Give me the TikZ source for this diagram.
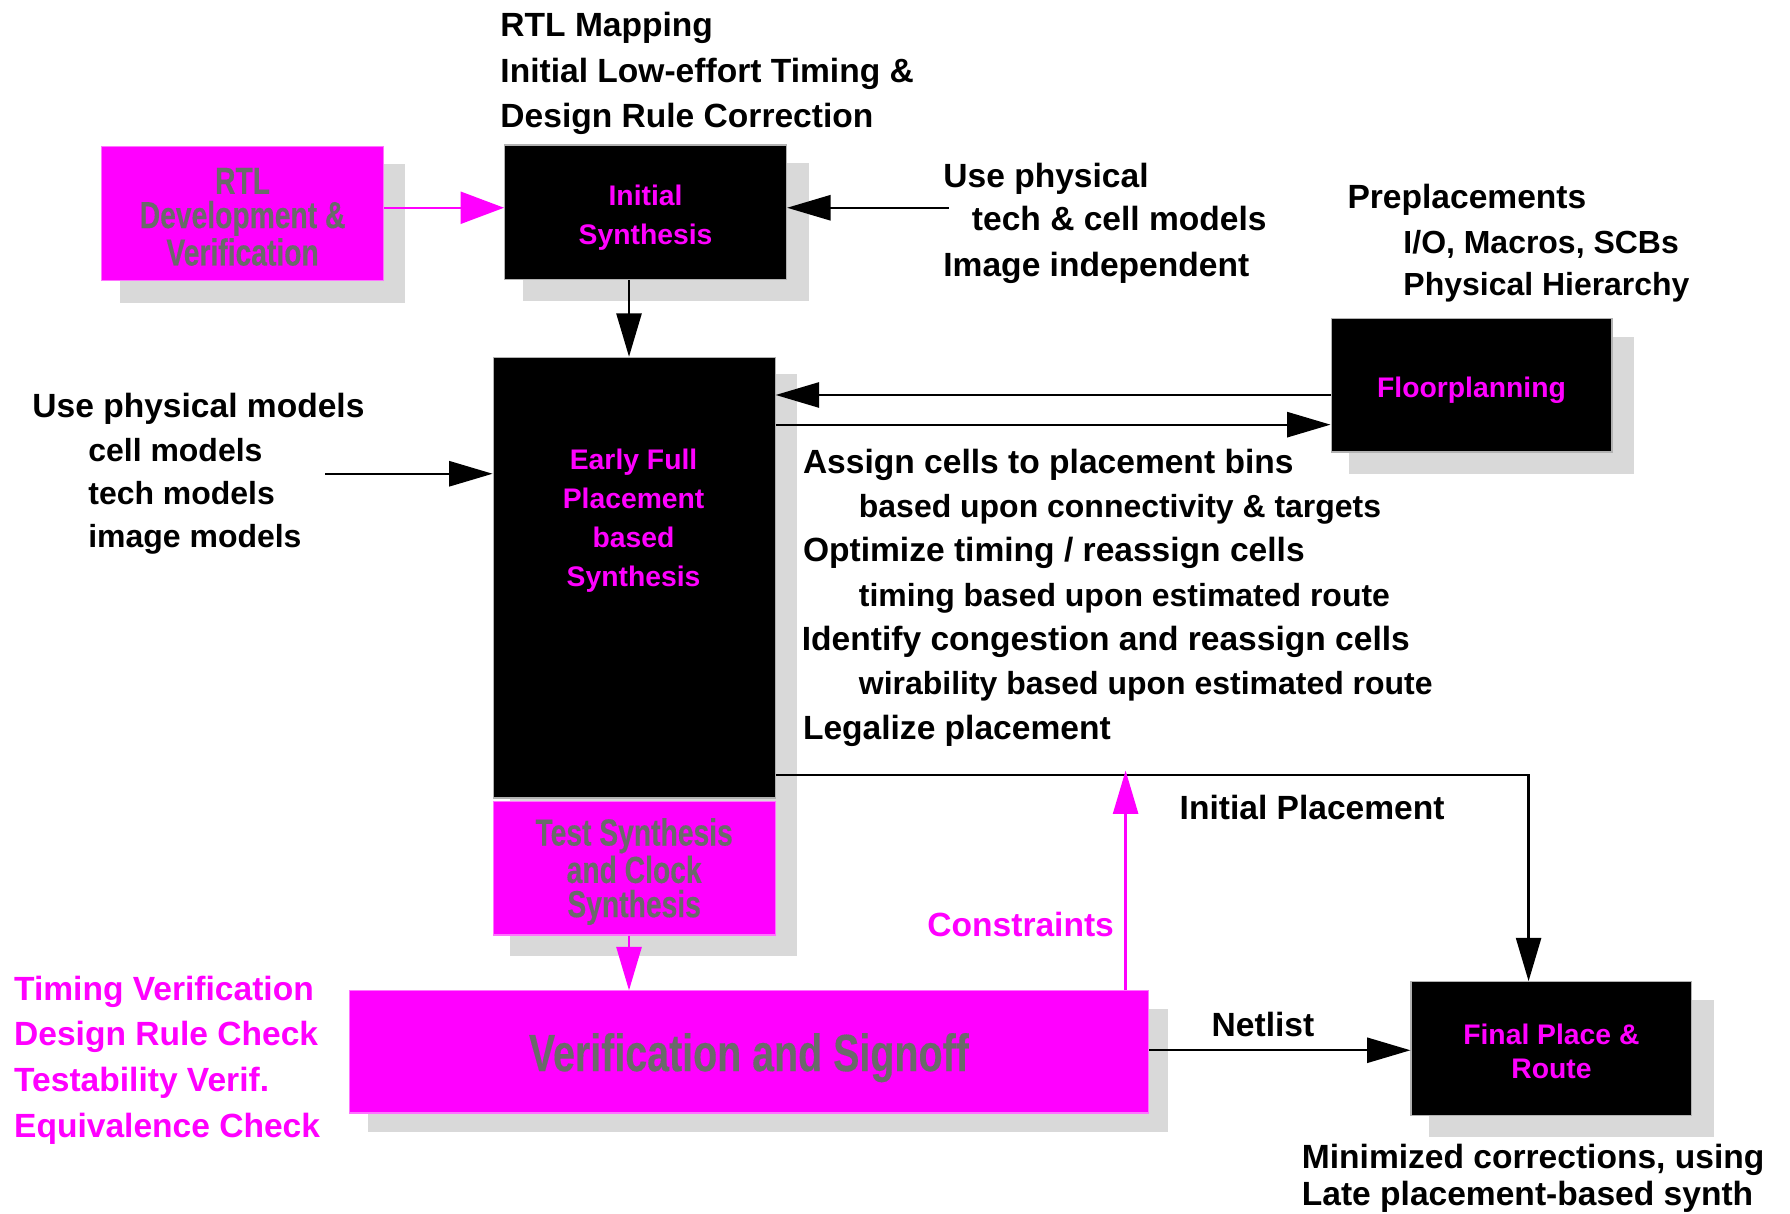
\documentclass[tikz,border=0pt]{standalone}
\usepackage{fontspec}
\setmainfont{Liberation Sans}
\newfontfamily\narrowfont{Liberation Sans Bold}[FakeStretch=0.75,FakeBold=0.25]
\usetikzlibrary{arrows.meta,calc}
\definecolor{mag}{HTML}{FF00FF}
\definecolor{shadowgray}{HTML}{D9D9D9}
\definecolor{gtext}{HTML}{6A6A6A}
\begin{document}
\begin{tikzpicture}[x=0.5pt,y=-0.5pt,
  txt/.style={font=\fontsize{14.7}{18}\selectfont\bfseries, anchor=base west, inner sep=0pt, text=black},
  subtxt/.style={txt, font=\fontsize{14}{18}\selectfont\bfseries},
  mtxt/.style={txt, text=mag},
  blackbox/.style={fill=black, draw=gray!60, line width=0.5pt, inner sep=0pt},
  magbox/.style={fill=mag, draw=mag!55!white, line width=0.5pt, inner sep=0pt},
  boxtext/.style={text=mag, font=\fontsize{12.4}{17}\selectfont\bfseries, align=center, inner sep=0pt, yshift=-2.2pt},
  graytext/.style={text=gtext, font=\narrowfont\fontsize{16.5}{15}\selectfont, align=center, inner sep=0pt, yshift=-1.5pt},
  barrow/.style={draw=black, line width=1pt, -{Triangle[length=19pt,width=11pt]}},
  marrow/.style={draw=mag, line width=1pt, -{Triangle[length=19pt,width=11pt]}}
]
\useasboundingbox (0,0) rectangle (1568,1063);
% shadows
\fill[shadowgray] (105,144) rectangle (355,265);
\fill[shadowgray] (458,143) rectangle (709,264);
\fill[shadowgray] (447,328) rectangle (698,837);
\fill[shadowgray] (1182,295) rectangle (1431,415);
\fill[shadowgray] (322,884) rectangle (1023,992);
\fill[shadowgray] (1252,876) rectangle (1501,996);
% boxes
\node[magbox, minimum width=123.5pt, minimum height=59pt] (rtl) at (212.5,187) {};
\node[graytext] (rtltxt) at (rtl.center) {RTL\\Development \&\\Verification};
\node[blackbox, minimum width=123.5pt, minimum height=59pt] (init) at (565.5,186) {};
\node[boxtext] (inittxt) at (init.center) {Initial\\Synthesis};
\node[blackbox, minimum width=123.5pt, minimum height=193pt] (early) at (555.5,506) {};
\node[boxtext, yshift=2.2pt] (earlytxt) at (555,456) {Early Full\\Placement\\based\\Synthesis};
\node[magbox, minimum width=123.5pt, minimum height=58.5pt] (test) at (555.5,760.5) {};
\node[graytext] (testtxt) at (test.center) {Test Synthesis\\and Clock\\Synthesis};
\node[blackbox, minimum width=123pt, minimum height=58.5pt] (floor) at (1289,337.5) {};
\node[boxtext] (floortxt) at (floor.center) {Floorplanning};
\node[magbox, minimum width=350pt, minimum height=53.5pt] (verif) at (656,921.5) {};
\node[graytext, font=\narrowfont\fontsize{23}{26}\selectfont, yshift=-1pt] (veriftxt) at (verif.center) {Verification and Signoff};
\node[blackbox, minimum width=123pt, minimum height=58.5pt] (fpr) at (1359,918.5) {};
\node[boxtext, font=\fontsize{12.4}{15}\selectfont\bfseries, yshift=0.8pt] (fprtxt) at (fpr.center) {Final Place \&\\Route};
% texts
\node[txt] (t1) at (438,32) {RTL Mapping};
\node[txt] (t2) at (438,72) {Initial Low-effort Timing \&};
\node[txt] (t3) at (438,112) {Design Rule Correction};
\node[txt] (u1) at (826,164) {Use physical};
\node[txt] (u2) at (851,202) {tech \& cell models};
\node[txt] (u3) at (826,242) {Image independent};
\node[txt] (p1) at (1180,183) {Preplacements};
\node[subtxt] (p2) at (1229,222) {I/O, Macros, SCBs};
\node[subtxt] (p3) at (1229,259) {Physical Hierarchy};
\node[txt] (l1) at (28,366) {Use physical models};
\node[subtxt] (l2) at (77,404) {cell models};
\node[subtxt] (l3) at (77,442) {tech models};
\node[subtxt] (l4) at (77,480) {image models};
\node[txt] (r1) at (703,415) {Assign cells to placement bins};
\node[subtxt] (r2) at (752,453) {based upon connectivity \& targets};
\node[txt] (r3) at (703,492) {Optimize timing / reassign cells};
\node[subtxt] (r4) at (752,531) {timing based upon estimated route};
\node[txt] (r5) at (702,570) {Identify congestion and reassign cells};
\node[subtxt] (r6) at (752,608) {wirability based upon estimated route};
\node[txt] (r7) at (703,648) {Legalize placement};
\node[txt] (ip) at (1033,718) {Initial Placement};
\node[mtxt] (cons) at (812,820) {Constraints};
\node[txt] (net) at (1061,908) {Netlist};
\node[mtxt] (v1) at (12,876) {Timing Verification};
\node[mtxt] (v2) at (12,916) {Design Rule Check};
\node[mtxt] (v3) at (12,956) {Testability Verif.};
\node[mtxt] (v4) at (12,996) {Equivalence Check};
\node[txt] (m1) at (1140,1024) {Minimized corrections, using};
\node[txt] (m2) at (1140,1056) {Late placement-based synth};
% free ends
\coordinate (useph) at (831,182);
\coordinate (left) at (285,415);
\coordinate (ctip) at (986,675);
% connectors
\draw[draw=mag, line width=1pt, -{Triangle[length=19pt,width=14pt]}] (rtl.east |- useph) -- (init.west |- useph);
\draw[barrow] (useph) -- (useph -| init.east);
\draw[barrow] (init.south -| 551,0) -- (early.north -| 551,0);
\draw[barrow] (floor.west |- 0,346) -- (early.east |- 0,346);
\draw[barrow] (early.east |- 0,372) -- (floor.west |- 0,372);
\draw[barrow] (left) -- (left -| early.west);
\draw[barrow] (early.east |- 0,679) -| ($(fpr.north)+(-20,0)$);
\draw[marrow] (verif.north -| ctip) -- (ctip);
\draw[marrow] (test.south -| 551,0) -- (verif.north -| 551,0);
\draw[barrow] (verif.east |- 0,920) -- (fpr.west |- 0,920);
\end{tikzpicture}
\end{document}
